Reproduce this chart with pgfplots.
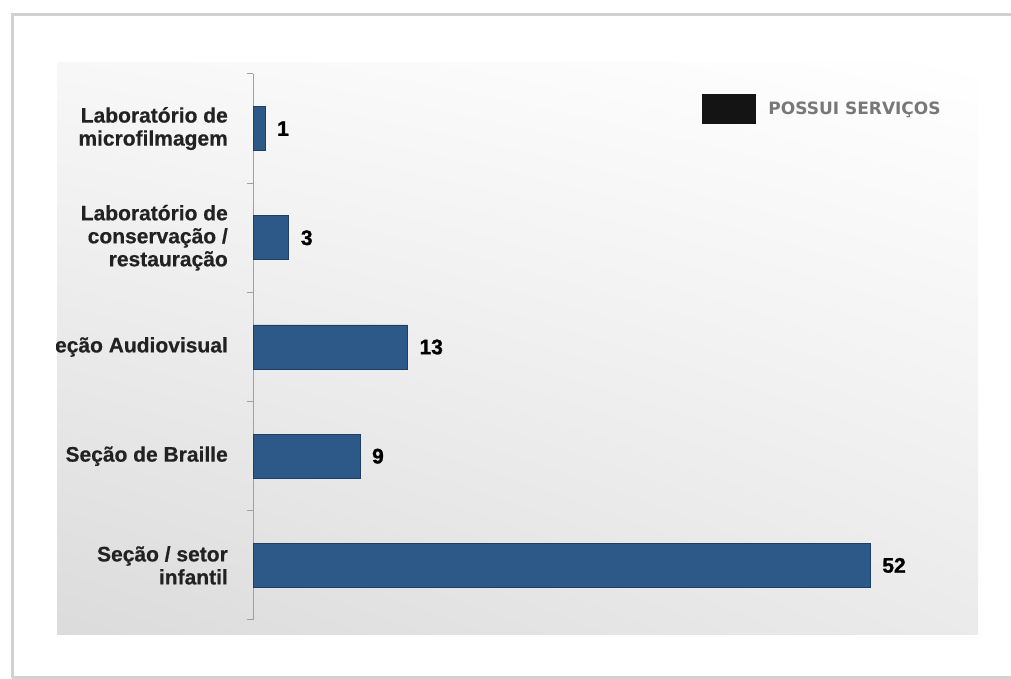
\documentclass[border=0pt]{standalone}
\usepackage{pgfplots}
\pgfplotsset{compat=1.18}
\usetikzlibrary{shadings}
\usepackage{fontspec}
\setmainfont{Liberation Sans}
\newfontfamily\legfont{DejaVu Sans}
\newfontfamily\numfont[FakeBold=1.2]{Liberation Sans Bold}
\newfontfamily\labfont[FakeBold=0.5]{Liberation Sans Bold}
\definecolor{barblue}{RGB}{44,89,135}
\definecolor{bardark}{RGB}{30,62,100}
\definecolor{labtxt}{RGB}{34,34,34}
\definecolor{legtxt}{RGB}{120,120,120}
\definecolor{axgray}{RGB}{160,160,160}
\begin{document}
\begin{tikzpicture}[x=1pt,y=1pt]
\useasboundingbox (0,0) rectangle (1011,679);
\fill[white] (0,0) rectangle (1011,679);
\clip (0,0) rectangle (1011,679);
% outer frame
\draw[black!18, line width=3pt] (12,1) -- (12,664.5) -- (1015,664.5);
\draw[black!18, line width=3pt] (12,1.5) -- (1015,1.5);
% panel
\shade[upper left=black!3, upper right=white, lower left=black!14, lower right=black!8] (57,44) rectangle (978,616);
\begin{scope}
\clip (56,0) rectangle (1011,679);
\begin{axis}[
  at={(253pt,59pt)}, anchor=south west,
  scale only axis, width=712pt, height=546pt,
  xbar, bar width=44pt, bar shift=0pt,
  xmin=0, xmax=60, ymin=0.5, ymax=5.5,
  axis x line=none,
  axis y line*=left,
  y axis line style={axgray, line width=1pt},
  ytick={1,2,3,4,5},
  yticklabels={{Seção / setor\\infantil},{Seção de Braille},{Seção Audiovisual},{Laboratório de\\conservação /\\restauração},{Laboratório de\\microfilmagem}},
  yticklabel style={font=\labfont\fontsize{21}{23}\selectfont, text=labtxt, align=right, inner sep=0pt, xshift=-25pt},
  major tick length=0pt,
  minor ytick={0.5,1.5,2.5,3.5,4.5,5.5},
  minor tick length=6pt,
  tick align=outside,
  every minor tick/.style={axgray, line width=1pt},
  clip=false,
  /pgf/number format/assume math mode=true,
  nodes near coords,
  every node near coord/.append style={font=\numfont\fontsize{21}{23}\selectfont, text=black, inner sep=0pt, anchor=west, xshift=12pt},
  legend style={draw=none, fill=none, inner sep=0pt, outer sep=0pt, at={(0.6306,0.9367)}, anchor=west, font=\legfont\bfseries\fontsize{17}{20}\selectfont, text=legtxt, nodes={inner sep=0pt}},
]
\addplot[fill=barblue, draw=bardark, line width=0.6pt, bar shift=0pt, forget plot] coordinates {(52,1) (9,2) (13,3) (3,4) (1,5)};
\addlegendimage{legend image code/.code={\fill[black!92] (0pt,-14.5pt) rectangle (53pt,14.5pt); \path (66pt,0pt);}}
\addlegendentry{POSSUI SERVIÇOS}
\end{axis}
\end{scope}
\end{tikzpicture}
\end{document}
